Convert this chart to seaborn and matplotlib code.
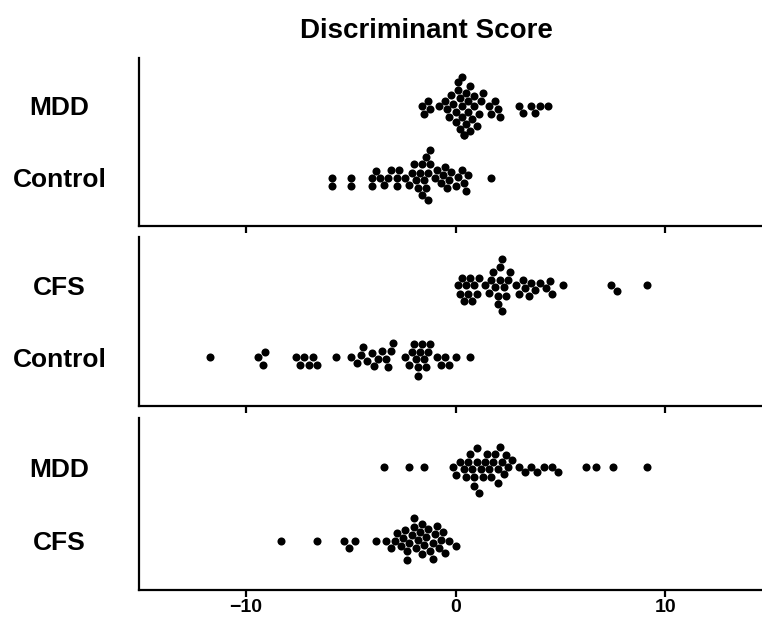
import numpy as np
import matplotlib
matplotlib.use("Agg")
import matplotlib.pyplot as plt
import pandas as pd
import seaborn as sns

sns.set_style("ticks", {"axes.edgecolor": "black", "text.color": "black",
                        "xtick.color": "black", "ytick.color": "black"})
plt.rcParams['font.family'] = ['Liberation Sans', 'DejaVu Sans']

# panel 1: MDD vs Control
mdd_1 = [-1.6, -1.5, -1.3, -1.2, -0.8, -0.5, -0.4, -0.3, -0.2, -0.1, 0.0, 0.0, 0.1, 0.1,
         0.2, 0.2, 0.3, 0.3, 0.3, 0.4, 0.4, 0.5, 0.5, 0.6, 0.6, 0.7, 0.7, 0.8, 0.9, 0.9,
         1.0, 1.1, 1.2, 1.3, 1.6, 1.7, 1.9, 2.0, 2.1, 3.0, 3.2, 3.6, 3.8, 4.0, 4.4]
control_1 = [-5.9, -5.9, -5.0, -5.0, -4.0, -4.0, -3.8, -3.6, -3.4, -3.2, -3.1, -2.8, -2.8,
             -2.7, -2.4, -2.2, -2.1, -2.0, -1.9, -1.8, -1.7, -1.6, -1.6, -1.5, -1.4, -1.4,
             -1.3, -1.3, -1.2, -1.2, -1.0, -0.9, -0.7, -0.6, -0.5, -0.4, -0.3, -0.2, 0.0,
             0.1, 0.3, 0.4, 0.5, 0.6, 1.7]

# panel 2: CFS vs Control
cfs_2 = [0.1, 0.2, 0.3, 0.4, 0.5, 0.6, 0.7, 0.8, 0.9, 1.0, 1.1, 1.4, 1.6, 1.7, 1.8, 1.9,
         2.0, 2.0, 2.1, 2.1, 2.2, 2.2, 2.3, 2.4, 2.5, 2.6, 2.9, 3.0, 3.2, 3.3, 3.5, 3.6,
         3.8, 4.0, 4.3, 4.5, 4.6, 5.1, 7.4, 7.7, 9.1]
control_2 = [-11.7, -9.4, -9.2, -9.1, -7.6, -7.4, -7.2, -7.0, -6.8, -6.6, -5.7, -5.0, -4.7,
             -4.5, -4.4, -4.2, -4.0, -3.9, -3.7, -3.5, -3.3, -3.2, -3.1, -3.0, -2.4, -2.2,
             -2.1, -2.0, -1.9, -1.8, -1.8, -1.7, -1.6, -1.5, -1.4, -1.3, -1.2, -0.9, -0.7,
             -0.5, -0.3, 0.0, 0.7]

# panel 3: MDD vs CFS
mdd_3 = [-3.4, -2.2, -1.5, -0.1, 0.0, 0.2, 0.4, 0.5, 0.6, 0.7, 0.8, 0.9, 0.9, 1.0, 1.0,
         1.1, 1.2, 1.3, 1.4, 1.5, 1.6, 1.7, 1.8, 1.9, 2.0, 2.0, 2.1, 2.2, 2.3, 2.4, 2.5,
         2.7, 3.0, 3.3, 3.6, 3.9, 4.2, 4.6, 4.9, 6.2, 6.7, 7.5, 9.1]
cfs_3 = [-8.3, -6.6, -5.3, -5.1, -4.8, -3.8, -3.3, -3.1, -2.9, -2.8, -2.6, -2.5, -2.4,
         -2.3, -2.3, -2.2, -2.1, -2.0, -2.0, -1.9, -1.8, -1.7, -1.6, -1.6, -1.5, -1.4,
         -1.3, -1.2, -1.1, -1.1, -1.0, -0.9, -0.8, -0.7, -0.6, -0.5, -0.3, 0.0]

panels = [
    (["MDD", "Control"], [mdd_1, control_1]),
    (["CFS", "Control"], [cfs_2, control_2]),
    (["MDD", "CFS"], [mdd_3, cfs_3]),
]

fig = plt.figure(figsize=(7.62, 6.21), dpi=100)
boxes = [(0.907, 0.636), (0.618, 0.347), (0.327, 0.050)]

for i, ((names, vals), (top, bot)) in enumerate(zip(panels, boxes)):
    ax = fig.add_axes([0.182, bot, 0.818, top - bot])
    df = pd.DataFrame({
        "score": np.concatenate(vals),
        "group": np.repeat(names, [len(v) for v in vals]),
    })
    sns.swarmplot(data=df, x="score", y="group", order=names, color="black",
                  size=5.8, ax=ax)
    ax.set_xlim(-15.1, 14.6)
    ax.set_ylim(1.67, -0.67)
    ax.set_xticks([-10, 0, 10])
    ax.set_xlabel("")
    ax.set_ylabel("")
    sns.despine(ax=ax)
    for s in ["left", "bottom"]:
        ax.spines[s].set_linewidth(1.6)
        ax.spines[s].set_color("black")
    ax.tick_params(axis="y", length=0, pad=57, labelsize=19)
    for lab in ax.get_yticklabels():
        lab.set_horizontalalignment("center")
        lab.set_fontweight("bold")
    ax.tick_params(axis="x", length=5, width=1.6, labelsize=14, pad=1.5)
    if i < 2:
        ax.set_xticklabels([])
    else:
        for lab in ax.get_xticklabels():
            lab.set_fontweight("semibold")

fig.text(0.56, 0.95, "Discriminant Score", ha="center", va="center",
         fontsize=20, fontweight="bold")

plt.savefig("out.png", dpi=100)
